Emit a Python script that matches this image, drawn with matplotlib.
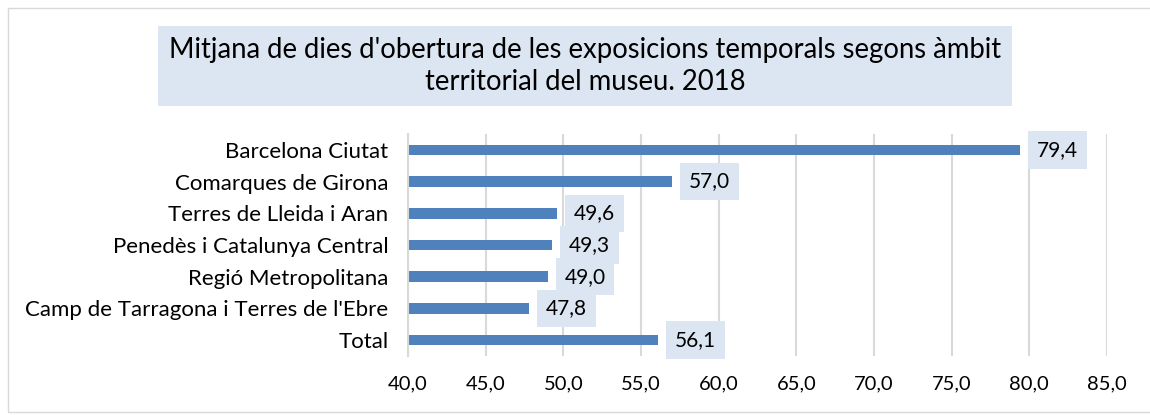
import matplotlib.pyplot as plt
from matplotlib.patches import Rectangle

# dades del gràfic
categories = ['Barcelona Ciutat', 'Comarques de Girona', 'Terres de Lleida i Aran',
              'Penedès i Catalunya Central', 'Regió Metropolitana',
              "Camp de Tarragona i Terres de l'Ebre", 'Total']
values = [79.4, 57.0, 49.6, 49.3, 49.0, 47.8, 56.1]
xticks = [40, 45, 50, 55, 60, 65, 70, 75, 80, 85]

plt.rcParams['font.family'] = ['Lato', 'DejaVu Sans']

fig = plt.figure(figsize=(11.5, 4.15), dpi=100)
ax = fig.add_axes([408 / 1150, 59 / 415, 699 / 1150, 222 / 415])

# vora exterior
fig.patches.append(Rectangle((8 / 1150, 3 / 415), 1.2, 404 / 415, transform=fig.transFigure,
                             fill=False, edgecolor='#D9D9D9', linewidth=1))

y = list(range(len(categories)))
ax.barh(y, [v - 40 for v in values], left=40, height=0.33, color='#4F81BD')
ax.set_xlim(40, 85)
ax.set_ylim(6.5, -0.5)
ax.set_yticks(y)
ax.set_yticklabels(categories, fontsize=16)
ax.set_xticks(xticks)
ax.set_xticklabels([('%.1f' % t).replace('.', ',') for t in xticks], fontsize=14.5)
ax.tick_params(axis='both', length=0)
ax.tick_params(axis='y', pad=14)
ax.tick_params(axis='x', pad=14)
ax.grid(axis='x', color='#D9D9D9', linewidth=1.5)
ax.set_axisbelow(True)
for s in ['top', 'right', 'bottom']:
    ax.spines[s].set_visible(False)
ax.spines['left'].set_color('#D9D9D9')
ax.spines['left'].set_linewidth(1.5)

for i, v in enumerate(values):
    ax.annotate(('%.1f' % v).replace('.', ','), xy=(v, i), xytext=(12, 0),
                textcoords='offset points', va='center', ha='left', fontsize=15,
                bbox=dict(boxstyle='square,pad=0.42', facecolor='#DCE6F2', edgecolor='none'))

fig.text(585 / 1150, 1 - 66 / 415,
         "Mitjana de dies d'obertura de les exposicions temporals segons àmbit\nterritorial del museu. 2018",
         ha='center', va='center', fontsize=19.8, linespacing=1.3,
         bbox=dict(boxstyle='square,pad=0.4', facecolor='#DCE6F2', edgecolor='none'))

fig.savefig('out.png', dpi=100)
